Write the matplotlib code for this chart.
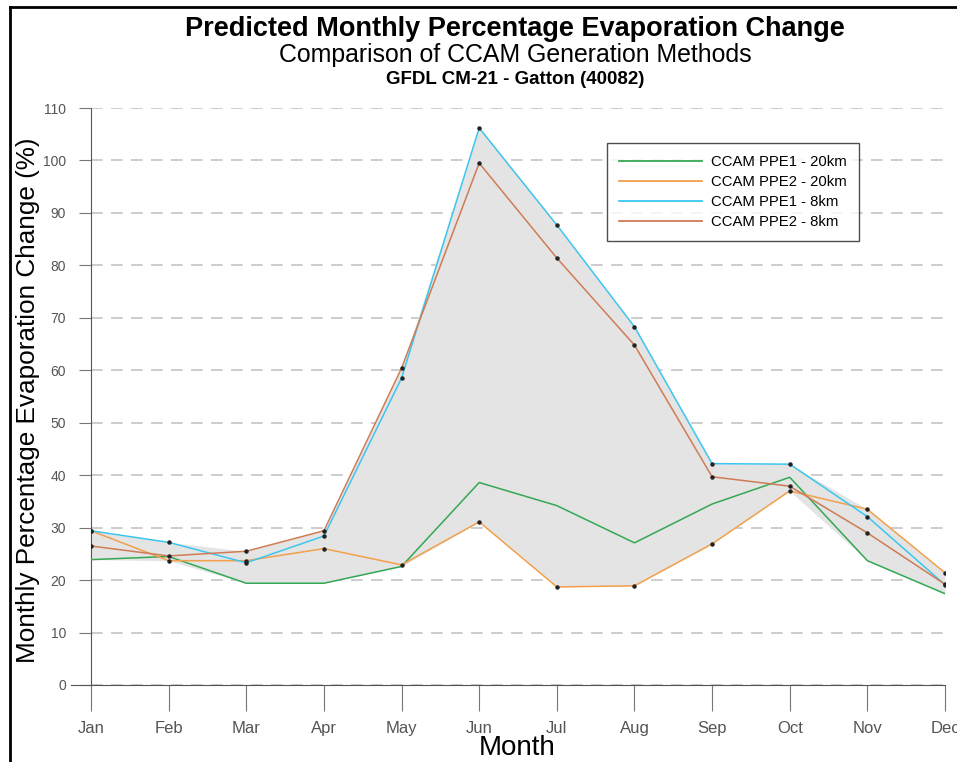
import numpy as np
import matplotlib
matplotlib.use("Agg")
import matplotlib.pyplot as plt
from matplotlib.lines import Line2D

plt.rcParams['font.family'] = ['Liberation Sans', 'DejaVu Sans']

months = ['Jan', 'Feb', 'Mar', 'Apr', 'May', 'Jun', 'Jul', 'Aug', 'Sep', 'Oct', 'Nov', 'Dec']

# values (%)
ppe1_20km = [23.9, 24.5, 19.4, 19.4, 22.6, 38.6, 34.2, 27.1, 34.5, 39.6, 23.7, 17.4]
ppe2_20km = [29.4, 23.7, 23.7, 26.0, 22.9, 31.1, 18.7, 18.9, 26.9, 37.0, 33.5, 21.4]
ppe1_8km = [29.4, 27.2, 23.3, 28.4, 58.5, 106.2, 87.7, 68.3, 42.2, 42.1, 32.1, 19.1]
ppe2_8km = [26.5, 24.6, 25.5, 29.4, 60.4, 99.5, 81.4, 64.8, 39.7, 37.9, 29.0, 19.2]

labels = ['CCAM PPE1 - 20km', 'CCAM PPE2 - 20km', 'CCAM PPE1 - 8km', 'CCAM PPE2 - 8km']
colors = ['#34a853', '#f2a04c', '#3cc6ef', '#cf7c55']

W, H = 957, 762
fig = plt.figure(figsize=(W / 100, H / 100), dpi=100)
ax = fig.add_axes([91 / W, 1 - 685 / H, (945 - 91) / W, (685 - 108) / H])

x = np.arange(len(months))
allv = np.array([ppe1_20km, ppe2_20km, ppe1_8km, ppe2_8km])
ax.fill_between(x, allv.min(axis=0), allv.max(axis=0), color='#e4e4e4', lw=0, zorder=1)

series = [ppe1_20km, ppe2_20km, ppe1_8km, ppe2_8km]
for i, s in enumerate(series):
    ax.plot(x, s, color=colors[i], lw=1.1, zorder=3)
    if i > 0:
        ax.plot(x, s, ls='none', marker='o', ms=2.2, color='#222222', zorder=4)

ax.set_xlim(0, 11)
ax.set_ylim(0, 110)
ax.set_yticks(np.arange(0, 111, 10))
ax.set_xticks(x)
ax.set_xticklabels(months)
ax.yaxis.grid(True, ls=(0, (7, 5)), color='#c4c4c4', lw=1.2)
ax.set_axisbelow(True)
for sp in ['top', 'right']:
    ax.spines[sp].set_visible(False)
for sp in ['left', 'bottom']:
    ax.spines[sp].set_color('#555555')
ax.tick_params(axis='y', length=9, color='#777777', labelsize=10, labelcolor='#555555', pad=9)
ax.tick_params(axis='x', length=19, color='#777777', labelsize=12, labelcolor='#555555', pad=7)

# zero line runs a little further left than the other ticks
fig.add_artist(Line2D([71 / W, 91 / W], [1 - 685 / H, 1 - 685 / H], transform=fig.transFigure,
                      color='#555555', lw=0.8))

fig.text(517 / W, 1 - 748 / H, 'Month', ha='center', va='center', fontsize=20)
fig.text(28 / W, 1 - 400 / H, 'Monthly Percentage Evaporation Change (%)', ha='center', va='center',
         rotation=90, fontsize=18.8)

fig.text(515 / W, 1 - 29 / H, 'Predicted Monthly Percentage Evaporation Change', ha='center', va='center',
         fontsize=19.5, fontweight='bold')
fig.text(515 / W, 1 - 55 / H, 'Comparison of CCAM Generation Methods', ha='center', va='center', fontsize=17.9)
fig.text(515 / W, 1 - 79 / H, 'GFDL CM-21 - Gatton (40082)', ha='center', va='center',
         fontsize=13.5, fontweight='bold')

handles = [Line2D([], [], color=c, lw=1.3) for c in colors]
leg = ax.legend(handles, labels, loc='upper left', bbox_to_anchor=(607 / W, 1 - 143 / H),
                bbox_transform=fig.transFigure, fontsize=10.7, handlelength=5.6, frameon=True,
                fancybox=False, edgecolor='#222222', borderpad=0.8, labelspacing=0.4,
                handletextpad=0.6, borderaxespad=0)
leg.get_frame().set_linewidth(1.0)

# outer frame lines (left and top)
fig.add_artist(Line2D([10 / W, 10 / W], [0, 1 - 7 / H], transform=fig.transFigure, color='black', lw=2))
fig.add_artist(Line2D([10 / W, 1], [1 - 7 / H, 1 - 7 / H], transform=fig.transFigure, color='black', lw=2))

fig.savefig('out.png', dpi=100)
